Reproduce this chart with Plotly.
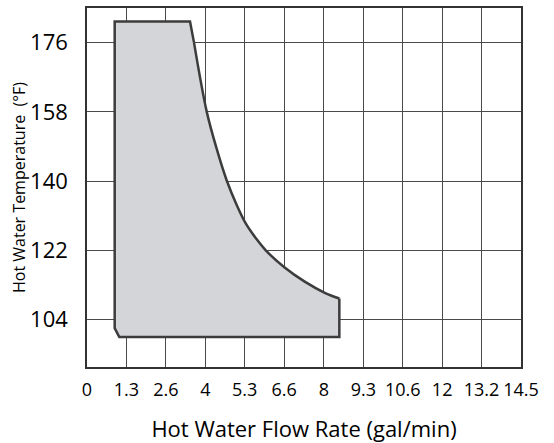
import plotly.graph_objects as go

# Straight edges of the operating envelope: from the high-temperature knee,
# across the top, down the left side, along the bottom, up to the right edge.
edge_flow_gpm = [3.583, 3.449, 0.927, 0.927, 1.081, 8.448, 8.448]
edge_temp_f = [176.0, 181.5, 181.5, 101.8, 99.5, 99.5, 109.51]

# Curved limit (max flow vs temperature), from the knee down to the right edge
curve_flow_gpm = [3.583, 4.008, 4.343, 4.678, 5.012, 5.324, 5.659,
                  5.993, 6.606, 7.289, 7.959, 8.448]
curve_temp_f = [176.0, 158.07, 148.37, 140.18, 133.82, 128.88, 125.11,
                121.94, 117.62, 113.88, 110.99, 109.51]

x_tick_vals = [0, 1.32, 2.64, 3.96, 5.28, 6.60, 7.93, 9.25, 10.57, 11.89, 13.21, 14.53]
x_tick_labels = ["0", "1.3", "2.6", "4", "5.3", "6.6", "8", "9.3", "10.6", "12", "13.2", "14.5"]
y_tick_vals = [104, 122, 140, 158, 176]
y_tick_labels = ["104", "122", "140", "158", "176"]

FONT = "Open Sans"
LINE = dict(color="#3c3c3c", width=2.5)

# closed polygon for the fill: straight edges then the curve back to the knee
poly_x = edge_flow_gpm + curve_flow_gpm[::-1]
poly_y = edge_temp_f + curve_temp_f[::-1]

fig = go.Figure()
fig.add_trace(go.Scatter(
    x=poly_x, y=poly_y, mode="lines", fill="toself",
    fillcolor="#d4d5d8", line=dict(color="rgba(0,0,0,0)", width=0, shape="linear"),
    hoverinfo="skip", showlegend=False,
))
fig.add_trace(go.Scatter(
    x=curve_flow_gpm, y=curve_temp_f, mode="lines",
    line=dict(color=LINE["color"], width=LINE["width"], shape="spline", smoothing=1.0),
    hoverinfo="skip", showlegend=False,
))
fig.add_trace(go.Scatter(
    x=edge_flow_gpm, y=edge_temp_f, mode="lines", line=LINE,
    hoverinfo="skip", showlegend=False,
))

fig.update_layout(
    width=554, height=443,
    margin=dict(l=87, r=33, t=8, b=76),
    paper_bgcolor="white", plot_bgcolor="white",
    font=dict(family=FONT, color="black"),
    showlegend=False,
)
fig.update_xaxes(
    range=[0, 14.53], tickmode="array", tickvals=x_tick_vals, ticktext=x_tick_labels,
    tickfont=dict(size=18, family=FONT, color="black"), ticks="", tickangle=0,
    ticklabelstandoff=6, automargin=False,
    showgrid=True, gridcolor="#4a4a4a", gridwidth=1, zeroline=False,
    showline=True, mirror=True, linecolor="#333333", linewidth=1.5,
    title=dict(text="Hot Water Flow Rate (gal/min)", font=dict(size=22, family=FONT, color="black"), standoff=28),
)
fig.update_yaxes(
    range=[91.7, 185.0], tickmode="array", tickvals=y_tick_vals, ticktext=y_tick_labels,
    tickfont=dict(size=22, family=FONT, color="black"), ticks="",
    ticklabelstandoff=13, automargin=False,
    showgrid=True, gridcolor="#4a4a4a", gridwidth=1, zeroline=False,
    showline=True, mirror=True, linecolor="#333333", linewidth=1.5,
    title=dict(text="Hot Water Temperature  (°F)", font=dict(size=16, family=FONT, color="black"), standoff=0),
)

fig.write_html("out.html", config={"displayModeBar": False},
               post_script="document.body.style.margin='0';")
